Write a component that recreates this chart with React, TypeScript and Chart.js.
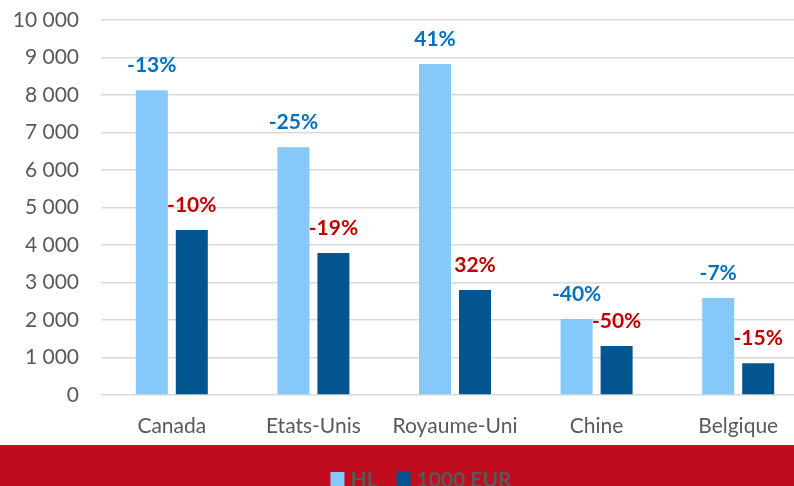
import React, { useEffect, useRef } from "react";
import { Chart, registerables } from "chart.js";

Chart.register(...registerables);

const categories = ["Canada", "Etats-Unis", "Royaume-Uni", "Chine", "Belgique"];
const seriesNames = ["HL", "1000 EUR"];
const hlValues = [8130, 6610, 8830, 2030, 2590];
const eurValues = [4400, 3790, 2800, 1310, 850];
const hlChanges = ["-13%", "-25%", "41%", "-40%", "-7%"];
const eurChanges = ["-10%", "-19%", "32%", "-50%", "-15%"];
const yMin = 0;
const yMax = 10000;
const yStep = 1000;

const HL_COLOR = "#85C8FA";
const EUR_COLOR = "#03558F";
const HL_LABEL = "#0070C0";
const EUR_LABEL = "#C00000";
const BAND = "#C00C1F";
const TEXT = "#595959";
const FONT = "Lato, 'Open Sans', sans-serif";

const fmt = (v: number) => String(v).replace(/\B(?=(\d{3})+(?!\d))/g, " ");

export default function App() {
  const ref = useRef<HTMLCanvasElement | null>(null);
  useEffect(() => {
    const canvas = ref.current;
    if (!canvas) return;
    const labelSets = [hlChanges, eurChanges];
    const labelColors = [HL_LABEL, EUR_LABEL];

    const bandPlugin = {
      id: "band",
      beforeDraw(chart: any) {
        const { ctx, width, height } = chart;
        ctx.save();
        ctx.fillStyle = "#ffffff";
        ctx.fillRect(0, 0, width, height);
        ctx.fillStyle = BAND;
        ctx.fillRect(0, 445, width, height - 445);
        ctx.restore();
      },
      afterDraw(chart: any) {
        const { ctx } = chart;
        ctx.save();
        ctx.font = `bold 21px ${FONT}`;
        const box = 14;
        const gap = 6;
        const itemGap = 19;
        const colors = [HL_COLOR, EUR_COLOR];
        const widths = seriesNames.map((n) => ctx.measureText(n).width);
        const total = widths.reduce((a, w) => a + box + gap + w, 0) + itemGap * (seriesNames.length - 1);
        let x = 421 - total / 2;
        seriesNames.forEach((n, i) => {
          ctx.fillStyle = colors[i];
          ctx.fillRect(x, 472, box, box + 2);
          ctx.fillStyle = TEXT;
          ctx.textBaseline = "alphabetic";
          ctx.textAlign = "left";
          ctx.fillText(n, x + box + gap, 487);
          x += box + gap + widths[i] + itemGap;
        });
        ctx.restore();
      },
    };

    const labelPlugin = {
      id: "valueLabels",
      afterDatasetsDraw(chart: any) {
        const { ctx } = chart;
        ctx.save();
        ctx.font = `bold 21px ${FONT}`;
        ctx.textAlign = "center";
        ctx.textBaseline = "middle";
        chart.data.datasets.forEach((_: any, di: number) => {
          const meta = chart.getDatasetMeta(di);
          ctx.fillStyle = labelColors[di];
          meta.data.forEach((bar: any, i: number) => {
            ctx.fillText(labelSets[di][i], bar.x, bar.y - 25);
          });
        });
        ctx.restore();
      },
    };

    const chart = new Chart(canvas, {
      type: "bar",
      data: {
        labels: categories,
        datasets: [
          {
            label: seriesNames[0],
            data: hlValues,
            backgroundColor: HL_COLOR,
            categoryPercentage: 0.565,
            barPercentage: 0.8,
          },
          {
            label: seriesNames[1],
            data: eurValues,
            backgroundColor: EUR_COLOR,
            categoryPercentage: 0.565,
            barPercentage: 0.8,
          },
        ],
      },
      options: {
        responsive: false,
        animation: false,
        devicePixelRatio: 1,
        layout: { padding: { top: 20, bottom: 41, left: 0, right: 0 } },
        plugins: {
          legend: { display: false },
          tooltip: { enabled: false },
        },
        scales: {
          x: {
            grid: { display: false, drawTicks: false },
            border: { display: false },
            ticks: {
              color: TEXT,
              font: { family: FONT, size: 21 },
              padding: 19,
              maxRotation: 0,
              autoSkip: false,
            },
            afterFit(scale: any) {
              scale.height = 50;
              scale.paddingLeft = 0;
              scale.paddingRight = 0;
            },
          },
          y: {
            min: yMin,
            max: yMax,
            grid: { color: "#D9D9D9", lineWidth: 1.6, drawTicks: false },
            border: { display: false },
            ticks: {
              stepSize: yStep,
              color: TEXT,
              font: { family: FONT, size: 21 },
              padding: 22,
              callback: (v: any) => fmt(Number(v)),
            },
            afterFit(scale: any) {
              scale.width = 101;
              scale.paddingTop = 0;
              scale.paddingBottom = 0;
            },
          },
        },
      },
      plugins: [bandPlugin, labelPlugin],
    });
    return () => chart.destroy();
  }, []);

  return (
    <div
      style={{
        position: "fixed",
        left: 0,
        top: 0,
        width: 794,
        height: 486,
        overflow: "hidden",
        background: "#fff",
      }}
    >
      <canvas ref={ref} width={809} height={486} style={{ width: 809, height: 486, display: "block" }} />
    </div>
  );
}
